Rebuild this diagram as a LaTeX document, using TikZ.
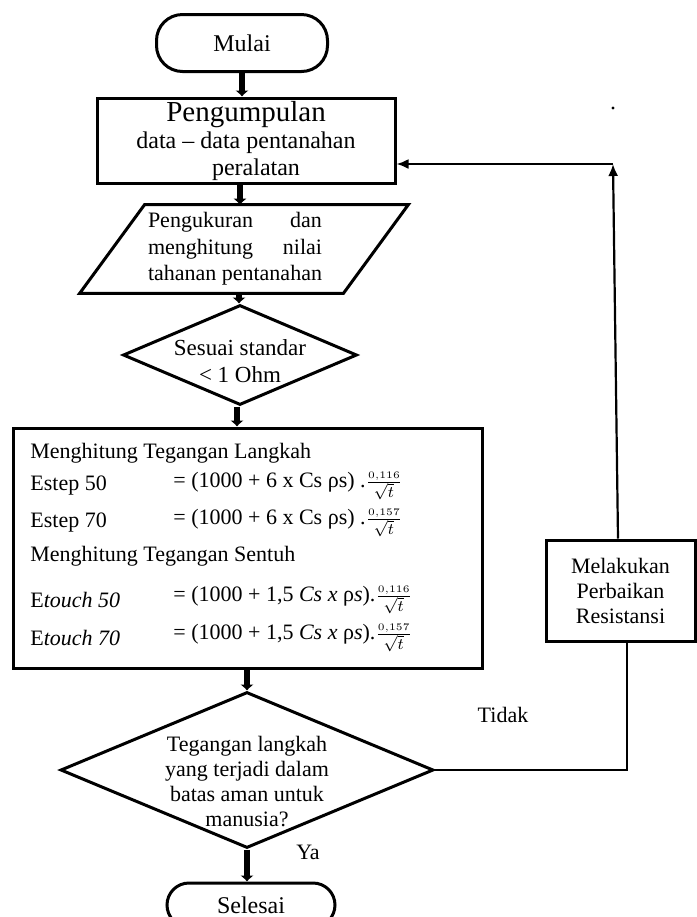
\documentclass[tikz,border=0pt]{standalone}
\usepackage{fontspec}
\setmainfont{Liberation Serif}
\usetikzlibrary{shapes.geometric,arrows.meta,calc}
\def\Frame{1.5pt}
\def\Thick{2.6pt}
\def\Thin{1.1pt}
\def\Slant{16.25pt}
\newcommand{\pecahan}[1]{$\frac{\scriptscriptstyle #1}{\scriptstyle\sqrt{t}}$}

\tikzset{
  bingkai/.style={draw, line width=\Frame},
  terminal/.style={bingkai, rectangle, rounded corners=13pt, font=\fontsize{12}{14}\selectfont},
  proses/.style={bingkai, rectangle, align=center, inner sep=0pt},
  keputusan/.style={bingkai, diamond, inner sep=0pt},
  teks/.style={inner sep=0pt, font=\fontsize{11}{12.5}\selectfont},
  tebal/.style={line width=\Thick, -{Latex[length=3pt,width=7pt]}},
  garis/.style={line width=\Thin},
  panah/.style={line width=\Thin, -{Latex[length=6pt,width=5pt]}}
}

\begin{document}
\begin{tikzpicture}[x=0.5pt,y=-0.5pt]
  \useasboundingbox (0,0) rectangle (697,917);
  % main column
  \node[terminal, minimum width=85.5pt, minimum height=28.5pt] (mulai) at (242,43) {Mulai};
  \node[proses, minimum width=149pt, minimum height=42.5pt,
        font=\fontsize{12}{13.5}\selectfont] (kumpul) at (246,140.5)
        {{\fontsize{14.5}{14}\selectfont Pengumpulan}\\data -- data pentanahan\\\hspace*{10pt}peralatan};
  \node[inner sep=0pt, minimum width=131.5pt, minimum height=44pt,
        font=\fontsize{11}{13.25}\selectfont] (ukur) at (244,249)
        {\hspace*{-9pt}\parbox{87pt}{Pengukuran\hfill dan\\menghitung\hfill nilai\\tahanan pentanahan}};
  \draw[bingkai] ([xshift=\Slant]ukur.north west) -- ([xshift=\Slant]ukur.north east)
    -- ([xshift=-\Slant]ukur.south east) -- ([xshift=-\Slant]ukur.south west) -- cycle;
  \node[keputusan, minimum width=117pt, minimum height=50pt,
        label={[teks, align=center, font=\fontsize{11.5}{13.5}\selectfont, yshift=-3pt]center:Sesuai standar\\< 1 Ohm}]
        (sesuai) at (240,355) {};
  \node[proses, minimum width=234.5pt, minimum height=120pt] (hitung) at (247.5,548) {};
  \node[keputusan, minimum width=186.5pt, minimum height=78pt,
        label={[teks, align=center, yshift=-6pt]center:Tegangan langkah\\yang terjadi dalam\\batas aman untuk\\manusia?}]
        (aman) at (247,770) {};
  \node[terminal, rounded corners=11pt, minimum width=84pt, minimum height=22pt] (selesai) at (251,905) {Selesai};
  % repair branch
  \node[proses, minimum width=74.5pt, minimum height=50.5pt,
        font=\fontsize{11}{12.5}\selectfont] (perbaikan) at (620.5,590.5)
        {Melakukan\\Perbaikan\\Resistansi};
  % formulas
  \node[teks, anchor=west] (l1) at (30,453) {Menghitung Tegangan Langkah};
  \node[teks, anchor=west] (l2) at (30,486) {Estep 50};
  \node[teks, anchor=west] (l3) at (30,523) {Estep 70};
  \node[teks, anchor=west] (l4) at (30,556) {Menghitung Tegangan Sentuh};
  \node[teks, anchor=west] (l5) at (30,600) {E\textit{touch 50}};
  \node[teks, anchor=west] (l6) at (30,638) {E\textit{touch 70}};
  \node[teks, anchor=west] (r2) at (173,486) {= (1000 + 6 x Cs ρs) .\pecahan{0{,}116}};
  \node[teks, anchor=west] (r3) at (173,523) {= (1000 + 6 x Cs ρs) .\pecahan{0{,}157}};
  \node[teks, anchor=west] (r5) at (173,600) {= (1000 + 1,5 \textit{Cs x} ρ\textit{s}).\pecahan{0{,}116}};
  \node[teks, anchor=west] (r6) at (173,638) {= (1000 + 1,5 \textit{Cs x} ρ\textit{s}).\pecahan{0{,}157}};
  % connectors
  \draw[tebal] (mulai) -- (mulai |- kumpul.north);
  \draw[tebal] (kumpul.south -| 240,0) -- (ukur.north -| 240,0);
  \draw[tebal] (ukur.south -| 239,0) -- (sesuai.north -| 239,0);
  \draw[tebal] (sesuai.south -| 237,0) -- (hitung.north -| 237,0);
  \draw[tebal] (aman.north |- hitung.south) -- (aman.north);
  \draw[tebal] (aman.south) -- (aman.south |- selesai.north);
  % loop back
  \coordinate (bawah) at ([xshift=3.25pt]perbaikan.south);
  \coordinate (balik) at (613,164);
  \draw[garis] (aman.east) -| (bawah);
  \draw[panah] ([xshift=-1.25pt]perbaikan.north) -- (balik);
  \draw[panah] (balik) -- (balik -| kumpul.east);
  % labels
  \node[teks] (tidak) at (503,715) {Tidak};
  \node[teks] (ya) at (308,852) {Ya};
  \fill (613,108) circle (0.8pt);
\end{tikzpicture}
\end{document}
